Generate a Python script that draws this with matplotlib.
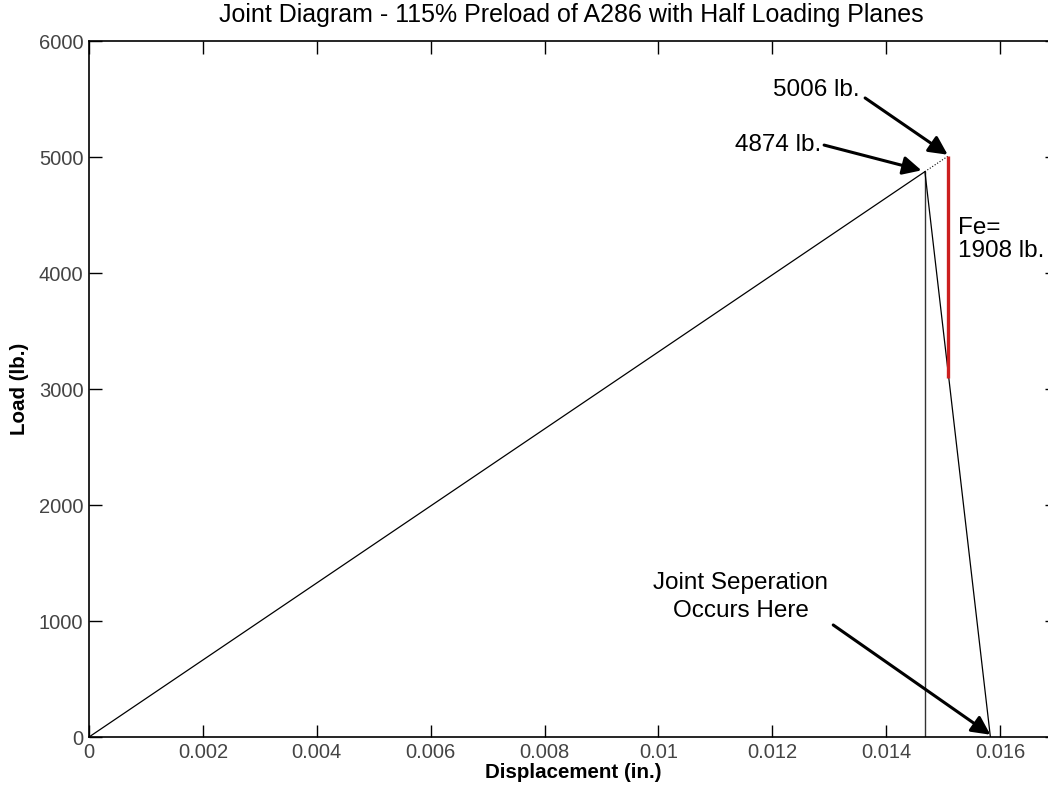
import matplotlib
matplotlib.use("Agg")
import matplotlib.pyplot as plt

plt.rcParams['font.family'] = ['Liberation Sans', 'DejaVu Sans']

# joint diagram values
x_load = [0, 0.01468]
y_load = [0, 4874]
x_ext = [0.01468, 0.01508]
y_ext = [4874, 5006]
x_vert = [0.01468, 0.01468]
y_vert = [0, 4874]
x_unload = [0.01468, 0.01583]
y_unload = [4874, 0]
x_fe = [0.01508, 0.01508]
y_fe = [5006 - 1908, 5006]

xticks = [0, 0.002, 0.004, 0.006, 0.008, 0.01, 0.012, 0.014, 0.016]
xlabels = ['0', '0.002', '0.004', '0.006', '0.008', '0.01', '0.012', '0.014', '0.016']
yticks = [0, 1000, 2000, 3000, 4000, 5000, 6000]

fig = plt.figure(figsize=(10.48, 7.92), dpi=100)
ax = fig.add_axes([0.0849, 0.0694, 0.9237, 0.8788])

ax.plot(x_load, y_load, color='k', lw=0.9)
ax.plot(x_ext, y_ext, color='k', lw=0.8, ls=':')
ax.plot(x_vert, y_vert, color='#333333', lw=1.0)
ax.plot(x_unload, y_unload, color='k', lw=0.9)
ax.plot(x_fe, y_fe, color='#cc1f1f', lw=2.4, solid_capstyle='butt')

ax.set_xlim(0, 0.017)
ax.set_ylim(0, 6000)
ax.set_xticks(xticks)
ax.set_xticklabels(xlabels)
ax.set_yticks(yticks)
ax.tick_params(direction='in', length=9, width=1, top=True, right=True,
               labelsize=14.5, labelcolor='#444444', pad=4)
for s in ax.spines.values():
    s.set_linewidth(1.2)

fig.text(571 / 1048, 1 - 15 / 792,
         'Joint Diagram - 115% Preload of A286 with Half Loading Planes',
         fontsize=18, ha='center', va='center')
ax.set_xlabel('Displacement (in.)', fontsize=14.8, fontweight='bold', labelpad=1)
ax.set_ylabel('Load (lb.)', fontsize=14.8, fontweight='bold', labelpad=7)

arrow = dict(arrowstyle='-|>', color='k', lw=2.2, mutation_scale=28,
             shrinkA=0, shrinkB=0)

ax.text(0.01201, 5580, '5006 lb.', fontsize=17.5, va='center', ha='left')
ax.annotate('', xy=(0.01508, 5020), xytext=(0.01363, 5509), arrowprops=arrow)

ax.text(0.01135, 5103, '4874 lb.', fontsize=17.5, va='center', ha='left')
ax.annotate('', xy=(0.01462, 4885), xytext=(0.01291, 5103), arrowprops=arrow)

ax.text(0.01526, 4290, 'Fe=\n1908 lb.', fontsize=17.5, va='center', ha='left',
        linespacing=1.1)

ax.text(0.01145, 1207, 'Joint Seperation\nOccurs Here', fontsize=17.5,
        va='center', ha='center', linespacing=1.38)
ax.annotate('', xy=(0.01583, 20), xytext=(0.01307, 966), arrowprops=arrow)

fig.savefig('out.png', dpi=100)
